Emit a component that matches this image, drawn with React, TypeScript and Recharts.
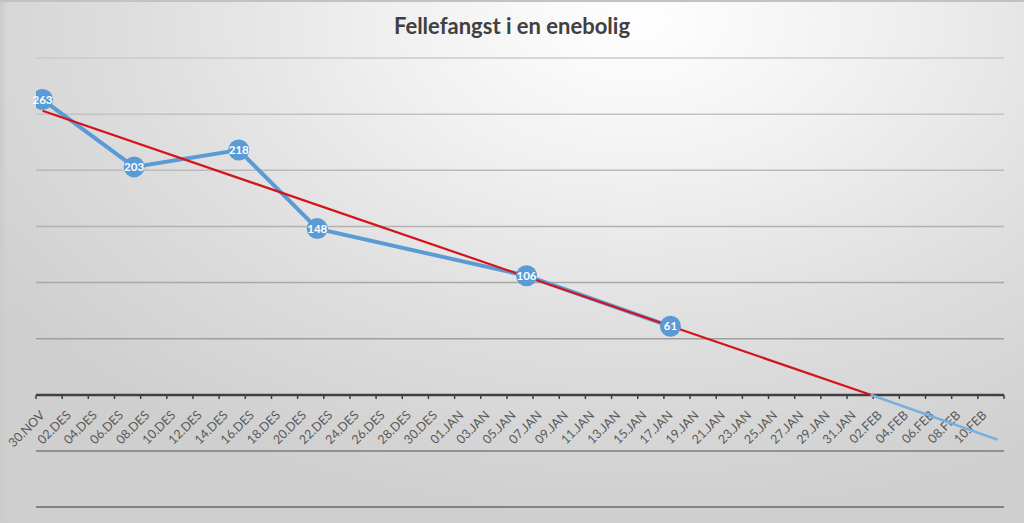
import React from 'react';
import { LineChart, Line, XAxis, YAxis, CartesianGrid, LabelList } from 'recharts';

const dateLabels = [
  '30.NOV', '02.DES', '04.DES', '06.DES', '08.DES', '10.DES', '12.DES', '14.DES', '16.DES',
  '18.DES', '20.DES', '22.DES', '24.DES', '26.DES', '28.DES', '30.DES', '01.JAN', '03.JAN',
  '05.JAN', '07.JAN', '09.JAN', '11.JAN', '13.JAN', '15.JAN', '17.JAN', '19.JAN', '21.JAN',
  '23.JAN', '25.JAN', '27.JAN', '29.JAN', '31.JAN', '02.FEB', '04.FEB', '06.FEB', '08.FEB',
  '10.FEB',
];
const tickDays = [
  0, 2, 4, 6, 8, 10, 12, 14, 16, 18, 20, 22, 24, 26, 28, 30, 32, 34, 36, 38, 40, 42, 44, 46,
  48, 50, 52, 54, 56, 58, 60, 62, 64, 66, 68, 70, 72,
];

// days counted from 30.NOV
const catchDays = [0, 7, 15, 21, 37, 48];
const catchCounts = [263, 203, 218, 148, 106, 61];

const trendDays = [0, 63.3];
const trendValues = [253, 0];
const forecastDays = [63.3, 73];
const forecastValues = [0, -40];

const gridValues = [-100, -50, 50, 100, 150, 200, 250, 300];
const yTicks = [-100, -50, 0, 50, 100, 150, 200, 250, 300];

const X_DOMAIN: [number, number] = [-0.5, 73.5];
const Y_DOMAIN: [number, number] = [-100, 300];

const catchData = catchDays.map((d, i) => ({ day: d, count: catchCounts[i] }));
const trendData = trendDays.map((d, i) => ({ day: d, v: trendValues[i] }));
const forecastData = forecastDays.map((d, i) => ({ day: d, v: forecastValues[i] }));
const markTicks = [...tickDays.map((d) => d - 0.5), 73.5];

const FONT = 'Lato, "Open Sans", sans-serif';

const EmptyTick = () => <g />;

const DateTick = (props: any) => {
  const { x, y, payload } = props;
  const idx = tickDays.indexOf(payload.value);
  const label = idx >= 0 ? dateLabels[idx] : '';
  return (
    <g transform={`translate(${x + 3},${y + 12})`}>
      <text
        x={0}
        y={0}
        transform="rotate(-45)"
        textAnchor="end"
        fill="#595959"
        fontSize={12.5}
        fontFamily={FONT}
      >
        {label}
      </text>
    </g>
  );
};

const Dot = (props: any) => {
  const { cx, cy } = props;
  if (cx == null || cy == null) return null;
  return <circle cx={cx} cy={cy} r={10.5} fill="#5B9BD5" />;
};

const ValueLabel = (props: any) => {
  const { x, y, value } = props;
  return (
    <text
      x={x}
      y={y}
      dy={4}
      textAnchor="middle"
      fill="#ffffff"
      fontSize={11.5}
      fontWeight={700}
      fontFamily={FONT}
    >
      {value}
    </text>
  );
};

export default function App() {
  const W = 1024;
  const H = 523;
  return (
    <div
      style={{
        position: 'absolute',
        left: 0,
        top: 0,
        width: W,
        height: H,
        overflow: 'hidden',
        background:
          'radial-gradient(ellipse 75% 95% at 62% 4%, #ffffff 0%, #f1f1f1 30%, #dedede 65%, #cfcfcf 100%)',
        boxShadow: 'inset 0 2px 0 #c2c2c2, inset 4px 0 3px #cdcdcd',
        fontFamily: FONT,
      }}
    >
      <div
        style={{
          position: 'absolute',
          top: 12,
          left: 0,
          width: W,
          textAlign: 'center',
          fontSize: 22,
          lineHeight: '28px',
          fontWeight: 700,
          color: '#404040',
        }}
      >
        Fellefangst i en enebolig
      </div>

      <div style={{ position: 'absolute', left: 0, top: 0 }}>
        <LineChart width={W} height={H} margin={{ top: 58, right: 20, left: 36, bottom: 67 }} data={catchData}>
          <XAxis
            xAxisId="a"
            dataKey="day"
            type="number"
            domain={X_DOMAIN}
            allowDataOverflow
            ticks={markTicks}
            interval={0}
            height={1}
            tick={EmptyTick}
            tickSize={4}
            axisLine={{ stroke: '#404040', strokeWidth: 2.5 }}
            tickLine={{ stroke: '#404040', strokeWidth: 1.5 }}
          />
          <XAxis
            xAxisId="b"
            dataKey="day"
            type="number"
            domain={X_DOMAIN}
            allowDataOverflow
            ticks={tickDays}
            interval={0}
            height={60}
            axisLine={false}
            tickLine={false}
            tick={DateTick}
          />
        </LineChart>
      </div>

      <div style={{ position: 'absolute', left: 0, top: 0 }}>
        <LineChart width={W} height={H} margin={{ top: 58, right: 20, left: 36, bottom: 16 }}>
          <defs>
            <linearGradient id="gridGrad" gradientUnits="userSpaceOnUse" x1="0" y1="58" x2="0" y2="507">
              <stop offset="0%" stopColor="#cbcbcb" />
              <stop offset="60%" stopColor="#a2a2a2" />
              <stop offset="100%" stopColor="#6a6a6a" />
            </linearGradient>
          </defs>
          <CartesianGrid
            vertical={false}
            horizontalValues={gridValues}
            stroke="url(#gridGrad)"
            strokeWidth={1.5}
          />
          <XAxis dataKey="day" type="number" domain={X_DOMAIN} allowDataOverflow hide />
          <YAxis type="number" domain={Y_DOMAIN} ticks={yTicks} allowDataOverflow hide />
          <Line
            data={catchData}
            dataKey="count"
            stroke="#5B9BD5"
            strokeWidth={4}
            dot={Dot}
            activeDot={false}
            isAnimationActive={false}
          >
            <LabelList dataKey="count" content={ValueLabel} />
          </Line>
          <Line
            data={forecastData}
            dataKey="v"
            stroke="#78aee0"
            strokeWidth={2.5}
            dot={false}
            activeDot={false}
            isAnimationActive={false}
          />
          <Line
            data={trendData}
            dataKey="v"
            stroke="#d4131b"
            strokeWidth={2.2}
            dot={false}
            activeDot={false}
            isAnimationActive={false}
          />
        </LineChart>
      </div>
    </div>
  );
}
